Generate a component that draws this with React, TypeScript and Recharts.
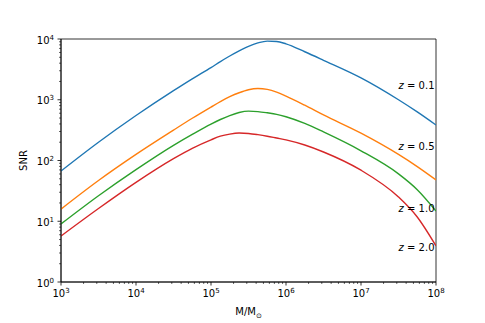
import { LineChart, Line, XAxis, YAxis, ReferenceArea, ReferenceDot, Label } from "recharts"

// total mass M/M_sun sampled along the curves
const masses = [
  1000, 3162, 10000, 31623, 56234, 100000, 133352, 177828, 237137, 316228,
  421697, 562341, 749894, 1000000, 1778279, 3162278, 10000000, 31622777, 56234133, 100000000,
]
const snrZ01 = [
  67, 199.5, 549.5, 1413, 2213, 3388, 4236, 5248, 6383, 7586,
  8610, 9226, 9120, 8318, 6166, 4467, 2291, 1000, 631, 384,
]
const snrZ05 = [
  15.85, 46.8, 125.9, 316.2, 495.5, 758.6, 933.3, 1122, 1303, 1462,
  1531, 1479, 1334, 1148, 812.8, 562.3, 281.8, 125.9, 79.4, 47.9,
]
const snrZ10 = [
  9.02, 26.3, 70.8, 177.8, 269.2, 398.1, 473.2, 549.5, 616.6, 648.6,
  638.3, 609.5, 575.4, 524.8, 407.4, 295.1, 144.5, 60.3, 33.1, 14.76,
]
const snrZ20 = [
  5.71, 16.2, 43.65, 107.2, 158.5, 218.8, 251.2, 272.3, 283.1, 278.6,
  266.1, 251.2, 234.4, 218.8, 179.9, 138.0, 69.2, 25.1, 11.75, 3.92,
]

const redshifts = ["0.1", "0.5", "1.0", "2.0"]
const labelSnr = [1750, 173, 16.5, 3.77]

const xMajor = [1e3, 1e4, 1e5, 1e6, 1e7, 1e8]
const yMajor = [1, 10, 100, 1000, 10000]

const series = [
  { key: "z01", color: "#1f77b4", values: snrZ01 },
  { key: "z05", color: "#ff7f0e", values: snrZ05 },
  { key: "z10", color: "#2ca02c", values: snrZ10 },
  { key: "z20", color: "#d62728", values: snrZ20 },
]

const data = masses.map((m, i) => {
  const row: Record<string, number> = { m }
  series.forEach((s) => (row[s.key] = s.values[i]))
  return row
})

const withMinor = (majors: number[]) => [
  ...majors,
  ...majors.slice(0, -1).flatMap((m) => [2, 3, 4, 5, 6, 7, 8, 9].map((k) => k * m)),
]

const FONT = "DejaVu Sans"

function XTick({ x, y, payload }: any) {
  if (!xMajor.includes(payload.value)) {
    return <line x1={x} x2={x} y1={y} y2={y + 2} stroke="#000" strokeWidth={0.6} />
  }
  const exp = Math.round(Math.log10(payload.value))
  return (
    <g>
      <line x1={x} x2={x} y1={y} y2={y + 3.5} stroke="#000" strokeWidth={0.8} />
      <text x={x} y={y + 15} textAnchor="middle" fontSize={10} fontFamily={FONT} fill="#000">
        10<tspan dy={-4} fontSize={7}>{exp}</tspan>
      </text>
    </g>
  )
}

function YTick({ x, y, payload }: any) {
  if (!yMajor.includes(payload.value)) {
    return <line x1={x - 2} x2={x} y1={y} y2={y} stroke="#000" strokeWidth={0.6} />
  }
  const exp = Math.round(Math.log10(payload.value))
  return (
    <g>
      <line x1={x - 3.5} x2={x} y1={y} y2={y} stroke="#000" strokeWidth={0.8} />
      <text x={x - 7} y={y + 4.5} textAnchor="end" fontSize={10} fontFamily={FONT} fill="#000">
        10<tspan dy={-4} fontSize={7}>{exp}</tspan>
      </text>
    </g>
  )
}

export default function App() {
  return (
    <div style={{ position: "absolute", left: 0, top: 0, background: "#fff" }}>
      <LineChart width={485} height={323} data={data} margin={{ top: 39, right: 49, bottom: 0, left: 0 }}>
        <XAxis
          dataKey="m"
          type="number"
          scale="log"
          domain={[1e3, 1e8]}
          ticks={withMinor(xMajor)}
          interval={0}
          allowDataOverflow
          height={41}
          tickSize={0}
          tickMargin={0}
          tickLine={false}
          axisLine={{ stroke: "#000", strokeWidth: 0.8 }}
          tick={<XTick />}
        >
          <Label
            content={({ viewBox }: any) => (
              <text
                x={viewBox.x + viewBox.width / 2}
                y={viewBox.y + 33}
                textAnchor="middle"
                fontSize={10}
                fontFamily={FONT}
                fill="#000"
              >
                M/M<tspan dy={2.5} fontSize={7}>⊙</tspan>
              </text>
            )}
          />
        </XAxis>
        <YAxis
          type="number"
          scale="log"
          domain={[1, 1e4]}
          ticks={withMinor(yMajor)}
          interval={0}
          allowDataOverflow
          width={61}
          tickSize={0}
          tickMargin={0}
          tickLine={false}
          axisLine={{ stroke: "#000", strokeWidth: 0.8 }}
          tick={<YTick />}
        >
          <Label
            content={({ viewBox }: any) => {
              const cx = 26.5
              const cy = viewBox.y + viewBox.height / 2
              return (
                <text
                  x={cx}
                  y={cy}
                  transform={`rotate(-90 ${cx} ${cy})`}
                  textAnchor="middle"
                  fontSize={10}
                  fontFamily={FONT}
                  fill="#000"
                >
                  SNR
                </text>
              )
            }}
          />
        </YAxis>
        {series.map((s) => (
          <Line
            key={s.key}
            type="monotone"
            dataKey={s.key}
            stroke={s.color}
            strokeWidth={1.4}
            dot={false}
            isAnimationActive={false}
          />
        ))}
        <ReferenceArea x1={1e3} x2={1e8} y1={1} y2={1e4} fill="none" fillOpacity={0} stroke="#000" strokeWidth={0.8} />
        {redshifts.map((z, i) => (
          <ReferenceDot
            key={z}
            x={1e8}
            y={labelSnr[i]}
            r={0}
            fill="none"
            stroke="none"
            label={({ viewBox }: any) => (
              <text
                x={viewBox.x - 1.5}
                y={viewBox.y + 4}
                textAnchor="end"
                fontSize={10}
                fontFamily={FONT}
                fill="#000"
              >
                <tspan fontStyle="italic">z</tspan> = {z}
              </text>
            )}
          />
        ))}
      </LineChart>
    </div>
  )
}
